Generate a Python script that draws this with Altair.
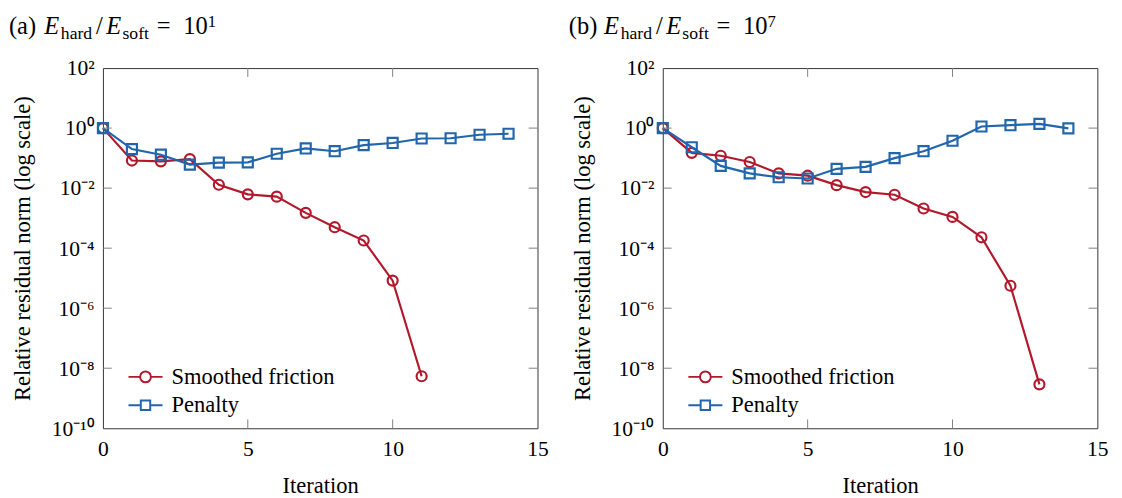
import altair as alt
import pandas as pd

# ---------------- data ----------------
SERIES = ["Smoothed friction", "Penalty"]
COLORS = ["#B2182B", "#2166AC"]

# panel (a): E_hard/E_soft = 10^1
sf_a = [1.0, 0.083, 0.078, 0.093, 0.013, 0.0062, 0.0052, 0.0015, 5.0e-4, 1.8e-4, 8.3e-6, 5.4e-9]
pen_a = [1.0, 0.20, 0.13, 0.061, 0.071, 0.072, 0.14, 0.21, 0.17, 0.27, 0.32, 0.45, 0.46, 0.60, 0.65]

# panel (b): E_hard/E_soft = 10^7
sf_b = [1.0, 0.15, 0.12, 0.074, 0.031, 0.026, 0.0126, 0.0074, 0.0060, 0.0021, 0.0011, 2.3e-4, 5.6e-6, 2.9e-9]
pen_b = [1.0, 0.23, 0.055, 0.031, 0.023, 0.021, 0.044, 0.051, 0.10, 0.17, 0.38, 1.13, 1.25, 1.38, 0.98]

x_tick_values = [0, 5, 10, 15]
y_exponents = [-10, -8, -6, -4, -2, 0, 2]

# ---------------- layout / style ----------------
W, H = 444, 368
FONT = "Liberation Serif"
TICK_LEN = 9
SUP = str.maketrans("-0123456789", "⁻⁰¹²³⁴⁵⁶⁷⁸⁹")


def make_df(sf, pen):
    rows = []
    for i, v in enumerate(sf):
        rows.append({"Iteration": i, "Value": v, "Series": SERIES[0]})
    for i, v in enumerate(pen):
        rows.append({"Iteration": i, "Value": v, "Series": SERIES[1]})
    return pd.DataFrame(rows)


label_expr = ""
for e in y_exponents:
    label_expr += f"round(log(datum.value)/LN10) == {e} ? '10{str(e).translate(SUP)}' : "
label_expr += "''"

X_ENC = alt.X(
    "Iteration:Q",
    scale=alt.Scale(domain=[0, 15], nice=False, zero=False),
    axis=alt.Axis(values=x_tick_values, title="Iteration", labelFlush=False,
                  labelPadding=11, titlePadding=16, format="d"),
)
Y_ENC = alt.Y(
    "Value:Q",
    scale=alt.Scale(type="log", domain=[1e-10, 1e2], nice=False),
    axis=alt.Axis(values=[10.0 ** e for e in y_exponents], labelExpr=label_expr,
                  title="Relative residual norm (log scale)", labelPadding=9,
                  titlePadding=17),
)

CIRC_PATH = "M-2.9,0L-0.92,0M0.92,0L2.9,0M0.92,0A0.92,0.92,0,1,1,-0.92,0A0.92,0.92,0,1,1,0.92,0"
SQ_PATH = "M-2.9,0L-0.8,0M0.8,0L2.9,0M-0.8,-0.8L0.8,-0.8L0.8,0.8L-0.8,0.8Z"

LEGEND = alt.Legend(
    title=None, orient="none", legendX=32, legendY=304,
    labelFont=FONT, labelFontSize=23, labelColor="black", labelLimit=400,
    symbolSize=144, symbolStrokeWidth=2, labelOffset=15, rowPadding=5, padding=0,
    symbolFillColor="transparent",
    symbolType=alt.ExprRef(f"datum.value === 'Penalty' ? '{SQ_PATH}' : '{CIRC_PATH}'"),
)
COLOR_SCALE = alt.Scale(domain=SERIES, range=COLORS)
COLOR_LEG = alt.Color("Series:N", scale=COLOR_SCALE, legend=LEGEND)
COLOR_NOLEG = alt.Color("Series:N", scale=COLOR_SCALE, legend=None)


def title_layers(letter, exponent):
    base_y = -34.5
    pieces = [
        (f"({letter})", -96, base_y, 25, "normal"),
        ("E", -60, base_y, 25, "italic"),
        ("hard", -43, base_y + 5, 18, "normal"),
        ("/", -7, base_y, 25, "normal"),
        ("E", 3.5, base_y, 25, "italic"),
        ("soft", 20, base_y + 5, 18, "normal"),
        ("=", 55, base_y, 25, "normal"),
        ("10", 82, base_y, 25, "normal"),
        (exponent, 107, base_y - 7, 17, "normal"),
    ]
    layers = []
    for text, px, py, fs, style in pieces:
        layers.append(
            alt.Chart(pd.DataFrame({"t": [text]}))
            .mark_text(align="left", baseline="alphabetic", font=FONT, fontSize=fs,
                       fontStyle=style, color="black")
            .encode(text="t:N", x=alt.value(px), y=alt.value(py))
        )
    return layers


def panel(sf, pen, letter, exponent):
    df = make_df(sf, pen)
    layers = []
    for s, shape, size in [(SERIES[0], "circle", 105), (SERIES[1], "square", 105)]:
        base = alt.Chart(df).transform_filter(alt.datum.Series == s)
        layers.append(base.mark_line(strokeWidth=2.2).encode(x=X_ENC, y=Y_ENC, color=COLOR_LEG))
        layers.append(
            base.mark_point(shape=shape, size=size, filled=False, strokeWidth=2.2, opacity=1)
            .encode(x=X_ENC, y=Y_ENC, color=COLOR_NOLEG)
        )

    ytick_df = pd.DataFrame({"Value": [10.0 ** e for e in y_exponents[1:-1]]})
    xtick_df = pd.DataFrame({"Iteration": x_tick_values[1:-1]})
    tick_color = "#808080"
    layers.append(alt.Chart(ytick_df).mark_rule(color=tick_color, strokeWidth=1)
                  .encode(y=Y_ENC, x=alt.value(0), x2=alt.value(TICK_LEN)))
    layers.append(alt.Chart(ytick_df).mark_rule(color=tick_color, strokeWidth=1)
                  .encode(y=Y_ENC, x=alt.value(W - TICK_LEN), x2=alt.value(W)))
    layers.append(alt.Chart(xtick_df).mark_rule(color=tick_color, strokeWidth=1)
                  .encode(x=X_ENC, y=alt.value(H), y2=alt.value(H - TICK_LEN)))
    layers.append(alt.Chart(xtick_df).mark_rule(color=tick_color, strokeWidth=1)
                  .encode(x=X_ENC, y=alt.value(0), y2=alt.value(TICK_LEN)))
    layers += title_layers(letter, exponent)
    return alt.layer(*layers).properties(width=W, height=H)


chart = (
    alt.hconcat(panel(sf_a, pen_a, "a", "1"), panel(sf_b, pen_b, "b", "7"), spacing=19)
    .resolve_scale(color="independent")
    .resolve_legend(color="independent")
    .properties(padding={"left": 0, "top": 0, "right": 5, "bottom": 0})
    .configure(font=FONT, background="white")
    .configure_view(stroke="#333333", strokeWidth=1)
    .configure_axis(
        labelFont=FONT, labelFontSize=22, labelColor="black",
        titleFont=FONT, titleFontSize=23, titleFontWeight="normal", titleColor="black",
        ticks=False, domain=False, grid=False,
    )
    .configure_legend(labelFont=FONT)
)

chart.save("out.html", embed_options={"renderer": "svg", "actions": False})
